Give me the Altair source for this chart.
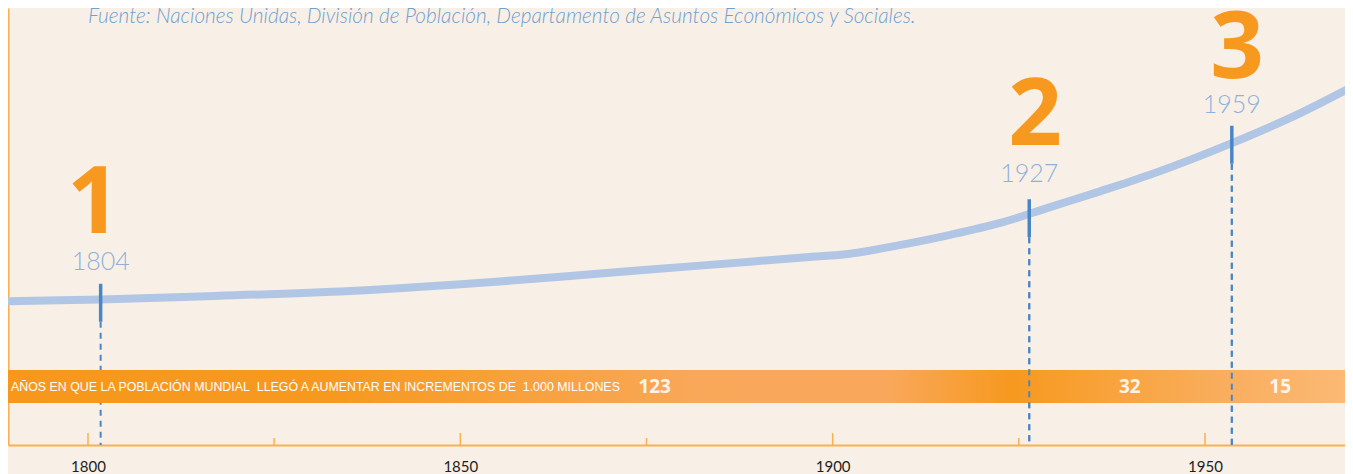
import altair as alt
import pandas as pd

# ---- data ----
line_years = [1789.0, 1801.7, 1815.0, 1835.2, 1855.3, 1868.8, 1882.2, 1895.6, 1902.3,
              1909.0, 1915.8, 1922.5, 1929.2, 1935.9, 1942.6, 1953.6, 1962.8, 1969.9]
line_pop = [1.01, 1.03, 1.07, 1.14, 1.26, 1.36, 1.46, 1.56, 1.61,
            1.72, 1.85, 2.00, 2.20, 2.40, 2.61, 3.01, 3.39, 3.73]

marker_numbers = ["1", "2", "3"]
marker_years = ["1804", "1927", "1959"]
marker_x = [1801.7, 1926.4, 1953.6]
marker_pop = [0.99, 2.06, 2.99]
# where the annotations sit (data units)
year_label_pop = [1.405, 2.519, 3.392]
number_x = [1800.8, 1927.2, 1954.3]
number_pop = [1.873, 2.987, 3.835]

major_ticks = [1800, 1850, 1900, 1950]
minor_ticks = [1825, 1875, 1925]

band_text = "AÑOS EN QUE LA POBLACIÓN MUNDIAL\u00a0 LLEGÓ A AUMENTAR EN INCREMENTOS DE\u00a0 1.000 MILLONES"
band_numbers = ["123", "32", "15"]
band_number_x = [1876.1, 1939.9, 1960.1]

source_text = "Fuente: Naciones Unidas, División de Población, Departamento de Asuntos Económicos y Sociales."

# ---- scales ----
X_DOM = [1789.26, 1968.80]
Y_DOM = [-0.81, 4.72]
BAND_TOP, BAND_BOT, BAND_MID = 0.14, -0.28, -0.075

ORANGE = "#f7991f"
AXIS_OR = "#f9b04f"
BLUE = "#4a86c5"
LINE_BLUE = "#b1c6e4"
LABEL_BLUE = "#8eb0db"
BG = "#f8f0e7"

xs = alt.Scale(domain=X_DOM, nice=False, zero=False)
ys = alt.Scale(domain=Y_DOM, nice=False, zero=False)
xaxis = alt.Axis(values=major_ticks, format="d", tickSize=0, labelFontSize=15,
                 labelColor="#231f20", labelFont="Lato", labelPadding=14,
                 domainColor=AXIS_OR, domainWidth=2, grid=False, title=None,
                 labelFlush=False)
yaxis = alt.Axis(values=[1, 2, 3, 4], labels=False, ticks=False, domainColor=AXIS_OR,
                 domainWidth=2, grid=False, title=None)

X = lambda: alt.X("x:Q", scale=xs, axis=xaxis, title=None)
Y = lambda: alt.Y("y:Q", scale=ys, axis=yaxis, title=None)

line_df = pd.DataFrame({"x": line_years, "y": line_pop})
mk = pd.DataFrame({"x": marker_x, "y": marker_pop, "year": marker_years,
                   "num": marker_numbers, "i": [0, 1, 2]})
mk["top"] = mk["y"] + 0.24
mk["bot"] = mk["y"] - 0.24
mk["base"] = Y_DOM[0]

ylbl_df = pd.DataFrame({"x": marker_x, "y": year_label_pop, "t": marker_years})
num_df = pd.DataFrame({"x": number_x, "y": number_pop, "t": marker_numbers})

band_df = pd.DataFrame({"x": [X_DOM[0]], "x2": [X_DOM[1]], "y": [BAND_TOP], "y2": [BAND_BOT]})
gradient = {
    "gradient": "linear", "x1": 0, "x2": 1, "y1": 0, "y2": 0,
    "stops": [
        {"offset": 0.0, "color": "#f7981d"},
        {"offset": 0.24, "color": "#f7991f"},
        {"offset": 0.52, "color": "#f9a85a"},
        {"offset": 0.66, "color": "#f9a75a"},
        {"offset": 0.75, "color": "#f7991f"},
        {"offset": 0.82, "color": "#f8a23a"},
        {"offset": 0.91, "color": "#f9ae5e"},
        {"offset": 1.0, "color": "#fbb974"},
    ],
}

band = alt.Chart(band_df).mark_rect(fill=gradient).encode(
    x=X(), x2="x2:Q", y=Y(), y2="y2:Q")

line = alt.Chart(line_df).mark_line(color=LINE_BLUE, strokeWidth=8, interpolate="monotone",
                                     strokeCap="butt", clip=True).encode(x=X(), y=Y())

dash_under = alt.Chart(mk).mark_rule(color=BLUE, strokeWidth=2, strokeDash=[6, 5]).encode(
    x=X(), y=alt.Y("bot:Q", scale=ys, axis=yaxis, title=None), y2="base:Q")
dash_over = dash_under.transform_filter("datum.i > 0")

solid = alt.Chart(mk).mark_rule(color=BLUE, strokeWidth=3.5).encode(
    x=X(), y=alt.Y("top:Q", scale=ys, axis=yaxis, title=None), y2="bot:Q")

year_lbl = alt.Chart(ylbl_df).mark_text(font="Lato", fontSize=25, fontWeight=300, color=LABEL_BLUE,
                                        baseline="alphabetic", align="center").encode(
    x=X(), y=Y(), text="t:N")

big_num = alt.Chart(num_df).mark_text(font="Open Sans", fontSize=94, fontWeight="bold", color=ORANGE,
                                      baseline="alphabetic", align="center").encode(
    x=X(), y=Y(), text="t:N")

btext_df = pd.DataFrame({"x": [1789.66], "y": [BAND_MID], "t": [band_text]})
btext = alt.Chart(btext_df).mark_text(font="Liberation Sans", fontSize=12.4, color="white",
                                      align="left", baseline="middle").encode(
    x=X(), y=Y(), text="t:N")

bnum_df = pd.DataFrame({"x": band_number_x, "y": [BAND_MID] * 3, "t": band_numbers})
bnum = alt.Chart(bnum_df).mark_text(font="Open Sans", fontSize=19, fontWeight="bold", color="white",
                                    opacity=0.88, align="center", baseline="middle").encode(
    x=X(), y=Y(), text="t:N")

maj_df = pd.DataFrame({"x": major_ticks, "y": [Y_DOM[0]] * 4, "y2": [Y_DOM[0] + 0.152] * 4})
min_df = pd.DataFrame({"x": minor_ticks, "y": [Y_DOM[0]] * 3, "y2": [Y_DOM[0] + 0.089] * 3})
maj = alt.Chart(maj_df).mark_rule(color=AXIS_OR, strokeWidth=1.5).encode(x=X(), y=Y(), y2="y2:Q")
mnr = alt.Chart(min_df).mark_rule(color=AXIS_OR, strokeWidth=1.5).encode(x=X(), y=Y(), y2="y2:Q")

src_df = pd.DataFrame({"x": [1800.0], "y": [4.53], "t": [source_text]})
src = alt.Chart(src_df).mark_text(font="Lato", fontSize=20.8, fontStyle="italic", fontWeight=300,
                                  color="#6fa0d2", align="left", baseline="alphabetic").encode(
    x=X(), y=Y(), text="t:N")

chart = alt.layer(
    dash_under, band, dash_over, line, solid, year_lbl, big_num, btext, bnum, maj, mnr, src
).properties(
    width=1337, height=437,
    autosize=alt.AutoSizeParams(type="none"),
    padding={"left": 0, "top": 0, "right": 0, "bottom": 29},
    background=BG,
).configure_view(stroke=None)

chart.save("out.html", embed_options={"renderer": "svg", "actions": False})
